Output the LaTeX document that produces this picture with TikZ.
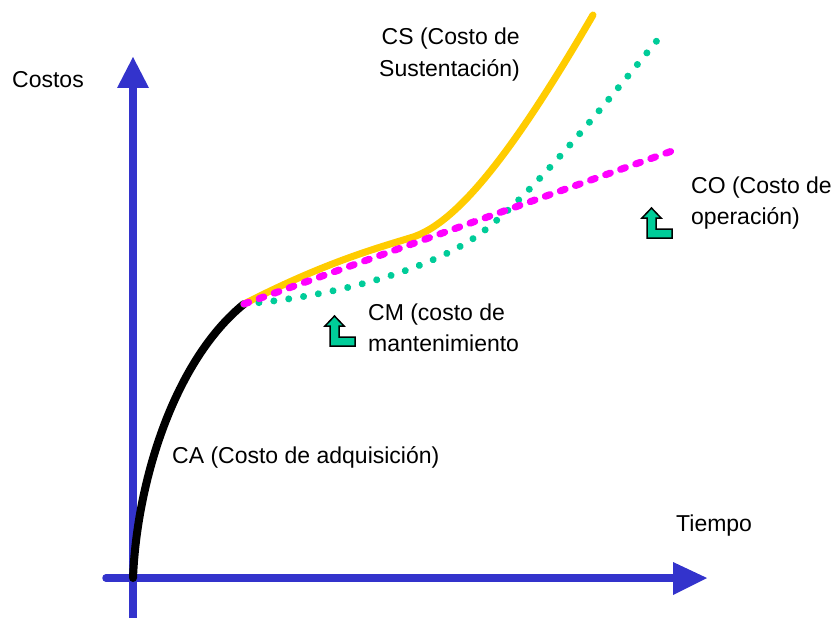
\documentclass[tikz,border=0pt]{standalone}
\usepackage{fontspec}
\setmainfont{Liberation Sans}
\definecolor{axisblue}{RGB}{51,51,204}
\definecolor{csyellow}{RGB}{255,204,0}
\definecolor{comag}{RGB}{255,0,255}
\definecolor{cmteal}{RGB}{0,204,153}
\begin{document}
\begin{tikzpicture}[x=1pt,y=-1pt,
  lbl/.style={font=\fontsize{23}{28}\selectfont, inner sep=0pt, text=black},
  axisline/.style={draw=axisblue, line width=7.5pt},
  axhead/.style={fill=axisblue},
  curveca/.style={draw=black, line width=8pt, line cap=round},
  curvecs/.style={draw=csyellow, line width=7pt, line cap=round},
  curvecm/.style={draw=cmteal, line width=7pt, line cap=round, dash pattern=on 0.01pt off 15pt},
  curveco/.style={draw=comag, line width=7pt, line cap=round, dash pattern=on 5pt off 11pt},
  arrowfill/.style={fill=cmteal, draw=black, line width=1.5pt, line join=miter},
  bentarrow/.pic={\path[arrowfill] (0,0) -- (0,-20) -- (-5,-20) -- (4.5,-30) -- (14,-20) -- (9,-20) -- (9,-9) -- (25,-9) -- (25,0) -- cycle;}]
\useasboundingbox (0,0) rectangle (839,618);

% axes
\coordinate (O) at (133,578);
\coordinate (ytop) at (133,88);
\coordinate (ybot) at (133,620);
\coordinate (xleft) at (106,578);
\coordinate (xright) at (673,578);
\draw[axisline] (ybot) -- (ytop);
\draw[axisline, line cap=round] (xleft) -- (xright);
\fill[axhead] (117,88) -- (149,88) -- (133,57) -- cycle;
\fill[axhead] (673,562) -- (673,595) -- (707,578) -- cycle;

% curves
\coordinate (knee) at (244,304);
\coordinate (coend) at (672,151);
\coordinate (csmid) at (410,238);
\coordinate (csend) at (593,15);
\coordinate (cmmid) at (477,236);
\coordinate (cmend) at (664,32);
\draw[curveca] (O) .. controls (137,480) and (175,360) .. (knee);
\draw[curvecs] (knee) .. controls (320,265) and (370,250) .. (csmid)
               .. controls (460,224) and (520,140) .. (csend);
\draw[curvecm] (knee) .. controls (320,298) and (420,275) .. (cmmid)
               .. controls (530,198) and (600,110) .. (cmend);
\draw[curveco] (knee) -- (coend);

% labels
\node[lbl, anchor=base west] (costos) at (12,88) {Costos};
\node[lbl, anchor=base east] (cs1) at (520,45) {CS (Costo de};
\node[lbl, anchor=base east] (cs2) at (520,77) {Sustentación)};
\node[lbl, anchor=base west] (co1) at (691,193) {CO (Costo de};
\node[lbl, anchor=base west] (co2) at (691,224) {operación)};
\node[lbl, anchor=base west] (cm1) at (368,320) {CM (costo de};
\node[lbl, anchor=base west] (cm2) at (368,351) {mantenimiento};
\node[lbl, anchor=base west] (ca) at (172,463) {CA (Costo de adquisición)};
\node[lbl, anchor=base west] (tiempo) at (676,531) {Tiempo};

% bent arrows
\pic at (330,346) {bentarrow};
\pic at (647,238) {bentarrow};
\end{tikzpicture}
\end{document}
